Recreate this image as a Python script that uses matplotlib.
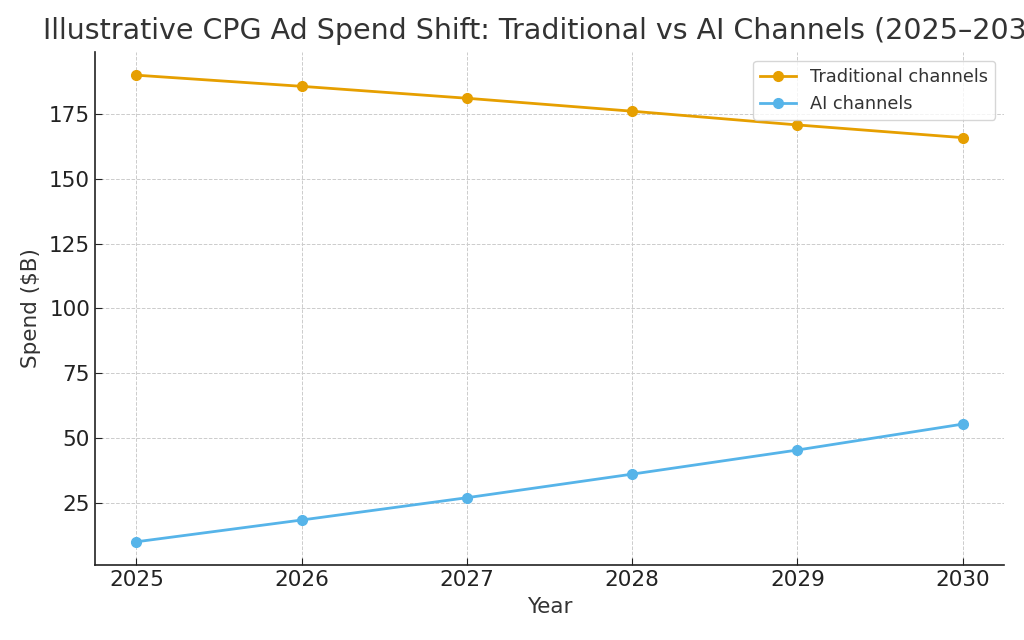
import matplotlib
matplotlib.use('Agg')
import matplotlib.pyplot as plt

years = [2025, 2026, 2027, 2028, 2029, 2030]
traditional = [190, 185.7, 181.1, 176.1, 170.8, 165.9]
ai = [10, 18.4, 27, 36.1, 45.4, 55.4]

plt.rcParams['font.family'] = 'DejaVu Sans'
text_color = '#333333'

fig = plt.figure(figsize=(10.24, 6.4), dpi=100)
ax = fig.add_axes([0.0928, 0.117, 0.8877, 0.802])

ax.plot(years, traditional, marker='o', color='#E69F00', linewidth=2, markersize=7,
        label='Traditional channels')
ax.plot(years, ai, marker='o', color='#56B4E9', linewidth=2, markersize=7,
        label='AI channels')

ax.set_title('Illustrative CPG Ad Spend Shift: Traditional vs AI Channels (2025–2030)',
             fontsize=20.5, color=text_color, pad=9)
ax.set_xlabel('Year', fontsize=15.5, color=text_color, labelpad=5)
ax.set_ylabel('Spend ($B)', fontsize=15.5, color=text_color, labelpad=6)
ax.set_xticks(years)
ax.tick_params(labelsize=15.5, direction='in', colors='#222222', length=5)
ax.grid(True, linestyle='--', linewidth=0.7, color='#cccccc')
for s in ['top', 'right']:
    ax.spines[s].set_visible(False)
for s in ['left', 'bottom']:
    ax.spines[s].set_color('#222222')
    ax.spines[s].set_linewidth(1.2)

leg = ax.legend(loc='upper right', fontsize=12.8, frameon=True)
for t in leg.get_texts():
    t.set_color(text_color)

fig.savefig('out.png', dpi=100)
